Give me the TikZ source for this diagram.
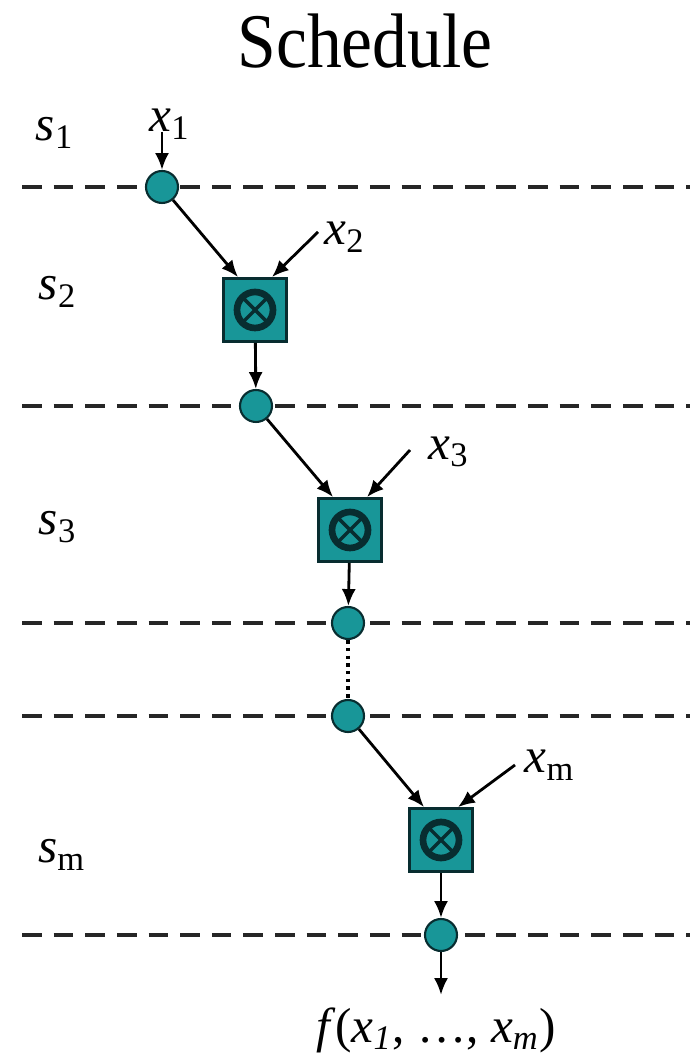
\documentclass[tikz,border=0pt]{standalone}
\usepackage{fontspec}
\setmainfont{Liberation Serif}
\usetikzlibrary{arrows.meta}
\definecolor{tealfill}{RGB}{24,150,152}
\definecolor{tealedge}{RGB}{8,45,48}
\tikzset{
  tap/.style = {circle, fill=tealfill, draw=tealedge, line width=0.6pt, minimum size=0.32cm, inner sep=0pt},
  mulbox/.style = {rectangle, fill=tealfill, draw=tealedge, line width=0.8pt, minimum size=0.63cm, inner sep=0pt,
    path picture={
      \draw [tealedge, line width=1.9pt] (path picture bounding box.center) circle (0.18cm);
      \draw [tealedge, line width=1pt] ([shift={(-0.13,-0.13)}]path picture bounding box.center) -- ([shift={(0.13,0.13)}]path picture bounding box.center);
      \draw [tealedge, line width=1pt] ([shift={(-0.13,0.13)}]path picture bounding box.center) -- ([shift={(0.13,-0.13)}]path picture bounding box.center);
    }},
  level/.style = {draw=black!85, line width=0.9pt, dash pattern=on 5.6pt off 3.4pt},
  flow/.style = {-{Latex[length=4.8pt,width=4pt]}, black, line width=0.8pt},
  lbl/.style = {font=\fontsize{14}{16}\selectfont, inner sep=0pt}
}
\begin{document}
\begin{tikzpicture}
\useasboundingbox (0,0) rectangle (6.9,10.54);
\node [xscale=0.9, font=\fontsize{22}{26}\selectfont] (title) at (3.65,10.13) {Schedule};
\draw [level] (0.22,8.67) -- (6.9,8.67);
\draw [level] (0.22,6.48) -- (6.9,6.48);
\draw [level] (0.22,4.31) -- (6.9,4.31);
\draw [level] (0.22,3.38) -- (6.9,3.38);
\draw [level] (0.22,1.19) -- (6.9,1.19);
\node [lbl] (s1) at (0.55,9.21) {\textit{s}\textsubscript{1}};
\node [lbl] (s2) at (0.58,7.62) {\textit{s}\textsubscript{2}};
\node [lbl] (s3) at (0.58,5.27) {\textit{s}\textsubscript{3}};
\node [lbl] (sm) at (0.62,1.99) {\textit{s}\textsubscript{m}};
\node [tap] (c1) at (1.62,8.67) {};
\node [tap] (c2) at (2.56,6.48) {};
\node [tap] (c3) at (3.48,4.31) {};
\node [tap] (c4) at (3.48,3.38) {};
\node [tap] (c5) at (4.41,1.19) {};
\node [mulbox] (m1) at (2.55,7.44) {};
\node [mulbox] (m2) at (3.50,5.24) {};
\node [mulbox] (m3) at (4.41,2.14) {};
\node [lbl] (x1) at (1.70,9.30) {\textit{x}\textsubscript{1}};
\node [lbl] (x2) at (3.45,8.17) {\textit{x}\textsubscript{2}};
\node [lbl] (x3) at (4.49,6.02) {\textit{x}\textsubscript{3}};
\node [lbl] (xm) at (5.50,2.89) {\textit{x}\textsubscript{m}};
\node [lbl] (fx) at (4.36,0.24) {\textit{f}(\textit{x}\textsubscript{\textit{1}}, \dots, \textit{x}\textsubscript{\textit{m}})};
\coordinate (in1) at (1.62,9.22);
\coordinate (in2) at (3.18,8.22);
\coordinate (in3) at (4.10,6.04);
\coordinate (inm) at (5.15,2.89);
\coordinate (out) at (4.41,0.59);
\draw [flow] (in1) -- (c1);
\draw [flow] (c1) -- ([xshift=-0.17cm]m1.north);
\draw [flow] (in2) -- ([xshift=0.17cm]m1.north);
\draw [flow] (m1) -- (c2);
\draw [flow] (c2) -- ([xshift=-0.17cm]m2.north);
\draw [flow] (in3) -- ([xshift=0.17cm]m2.north);
\draw [flow] (m2) -- (c3);
\draw [black, line width=0.9pt, dash pattern=on 1pt off 1.2pt] (c3) -- (c4);
\draw [flow] (c4) -- ([xshift=-0.17cm]m3.north);
\draw [flow] (inm) -- ([xshift=0.17cm]m3.north);
\draw [flow] (m3) -- (c5);
\draw [flow] (c5) -- (out);
\end{tikzpicture}
\end{document}
